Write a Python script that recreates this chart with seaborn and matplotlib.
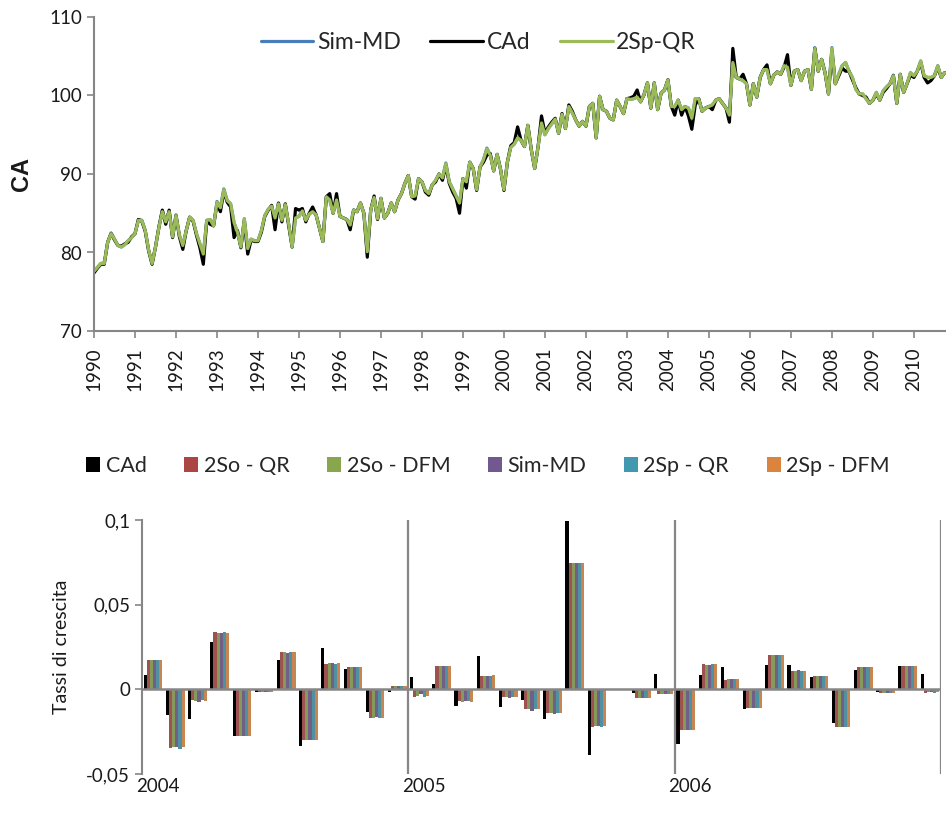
import matplotlib
matplotlib.use("Agg")
import matplotlib.pyplot as plt
from matplotlib.patches import Patch
import numpy as np
import pandas as pd
import seaborn as sns

sns.set_theme(style="white")
plt.rcParams["font.family"] = ["Lato", "DejaVu Sans"]

# ---------------- monthly index CA, Jan 1990 - Oct 2010 ----------------
YEAR_LABELS = [str(y) for y in range(1990, 2011)]

CAD = [
    77.4, 78.0, 78.5, 78.5, 81.3, 82.4, 81.6, 80.9, 80.8, 81.1, 81.3, 82.0,
    82.4, 84.2, 84.0, 82.7, 80.2, 78.5, 80.7, 83.2, 85.4, 83.6, 85.4, 81.9,
    84.7, 82.0, 80.4, 82.8, 84.5, 84.0, 82.2, 80.6, 78.5, 84.0, 83.6, 83.4,
    86.2, 85.2, 87.8, 86.4, 85.8, 81.9, 82.8, 80.6, 84.0, 79.8, 81.6, 81.4,
    81.4, 82.6, 84.6, 85.4, 86.0, 82.9, 86.3, 83.9, 86.2, 83.4, 80.7, 85.6,
    85.4, 85.6, 83.9, 85.0, 85.8, 84.8, 83.1, 81.4, 87.1, 87.5, 85.0, 87.5,
    84.6, 84.4, 84.2, 82.9, 85.4, 85.2, 86.3, 85.0, 79.4, 85.4, 87.2, 84.2,
    86.9, 84.4, 85.0, 86.3, 85.2, 86.7, 87.5, 88.8, 89.8, 87.1, 86.8, 89.4,
    89.0, 87.7, 87.3, 88.6, 89.0, 90.0, 89.2, 91.1, 88.8, 87.7, 86.9, 85.0,
    89.4, 88.2, 91.5, 90.7, 87.9, 90.9, 91.5, 92.4, 92.6, 90.4, 92.5, 90.6,
    87.9, 91.5, 93.6, 94.0, 96.0, 94.3, 93.5, 96.2, 93.1, 90.7, 93.5, 97.4,
    95.2, 96.0, 96.6, 97.1, 95.2, 97.7, 95.8, 98.8, 98.0, 96.9, 96.1, 96.7,
    96.1, 98.6, 99.0, 94.6, 99.9, 98.2, 98.0, 97.1, 96.9, 99.4, 98.6, 97.7,
    99.6, 99.7, 99.9, 100.7, 99.2, 100.1, 101.6, 98.4, 101.6, 98.2, 100.3, 100.7,
    102.0, 98.6, 97.5, 99.4, 97.5, 98.6, 97.4, 95.7, 98.8, 99.6, 98.0, 98.4,
    98.6, 98.2, 99.4, 99.6, 99.0, 98.4, 96.6, 106.0, 102.3, 102.1, 102.7, 101.5,
    98.8, 101.5, 99.8, 102.3, 103.3, 103.9, 101.5, 102.6, 103.0, 102.7, 103.6, 105.2,
    101.3, 103.1, 103.3, 101.9, 103.1, 103.3, 100.8, 106.0, 103.1, 104.6, 102.9, 100.2,
    105.6, 101.5, 102.5, 103.5, 103.1, 103.1, 102.0, 101.0, 100.2, 100.0, 99.8, 99.0,
    99.4, 100.2, 99.4, 100.4, 100.9, 101.5, 102.5, 99.0, 102.7, 100.4, 101.5, 102.6,
    102.3, 103.1, 104.2, 102.3, 101.6, 101.9, 102.5, 103.6, 102.3, 102.9,
]

SP2_QR = [
    77.6, 78.1, 78.6, 78.6, 81.3, 82.4, 81.7, 80.9, 80.7, 81.0, 81.5, 81.9,
    82.4, 84.1, 84.1, 82.8, 80.3, 78.6, 80.7, 83.2, 85.2, 83.9, 85.2, 82.0,
    84.7, 82.2, 80.9, 82.8, 84.5, 84.1, 82.4, 81.1, 79.8, 84.1, 84.2, 83.4,
    86.4, 85.7, 88.0, 86.6, 86.2, 83.8, 82.6, 80.7, 84.3, 80.5, 81.7, 81.5,
    81.5, 82.8, 84.7, 85.5, 85.9, 84.4, 86.2, 84.1, 86.1, 83.6, 80.7, 84.4,
    84.6, 85.3, 84.1, 84.9, 85.2, 84.8, 83.1, 81.4, 87.1, 86.7, 85.0, 86.7,
    84.6, 84.4, 84.2, 83.5, 85.4, 85.2, 86.3, 85.0, 80.1, 85.4, 87.0, 84.3,
    86.9, 84.4, 85.0, 86.3, 85.2, 86.7, 87.5, 88.8, 89.8, 87.1, 87.2, 89.4,
    89.0, 87.9, 87.5, 88.6, 89.2, 90.0, 89.5, 91.3, 89.0, 88.1, 87.2, 86.3,
    89.4, 89.0, 91.5, 90.7, 88.0, 90.9, 91.8, 93.2, 92.4, 90.4, 92.5, 90.6,
    88.0, 91.5, 93.4, 93.8, 94.6, 94.3, 93.5, 96.2, 93.1, 90.7, 93.5, 96.5,
    95.0, 95.8, 96.4, 97.0, 95.2, 97.6, 95.8, 98.6, 97.8, 96.9, 96.1, 96.7,
    96.1, 98.6, 99.0, 94.6, 99.9, 98.2, 98.0, 97.1, 96.9, 99.4, 98.6, 97.7,
    99.6, 99.5, 99.6, 99.8, 99.2, 100.1, 101.6, 98.4, 101.6, 98.2, 100.3, 100.7,
    102.0, 98.6, 98.6, 99.4, 98.2, 98.6, 98.4, 97.1, 99.6, 99.6, 98.0, 98.4,
    98.6, 98.8, 99.4, 99.6, 99.0, 98.4, 97.5, 104.2, 102.3, 102.1, 101.9, 101.5,
    98.8, 101.5, 99.8, 102.3, 103.3, 103.3, 101.5, 102.6, 103.0, 102.7, 103.8, 103.6,
    101.3, 103.1, 103.3, 101.9, 103.1, 103.3, 100.8, 106.0, 103.1, 104.6, 102.9, 100.2,
    106.0, 101.5, 102.7, 103.8, 104.2, 103.1, 102.3, 100.8, 100.2, 100.2, 99.6, 99.0,
    99.4, 100.4, 99.4, 100.6, 101.1, 101.5, 102.5, 99.0, 102.7, 100.4, 101.5, 102.9,
    102.5, 103.1, 104.4, 102.5, 102.3, 102.3, 102.5, 103.8, 102.3, 102.9,
]

SIM_MD = [
    77.6, 78.1, 78.6, 78.7, 81.3, 82.5, 81.7, 80.9, 80.7, 81.0, 81.5, 81.9,
    82.4, 84.2, 84.1, 82.8, 80.3, 78.6, 80.7, 83.3, 85.3, 83.9, 85.2, 82.0,
    84.8, 82.2, 80.9, 82.8, 84.5, 84.1, 82.4, 81.1, 79.8, 84.1, 84.2, 83.4,
    86.5, 85.7, 88.1, 86.6, 86.2, 83.8, 82.6, 80.7, 84.3, 80.5, 81.7, 81.5,
    81.5, 82.8, 84.7, 85.5, 85.9, 84.4, 86.2, 84.1, 86.1, 83.6, 80.7, 84.4,
    84.6, 85.4, 84.1, 84.9, 85.2, 84.8, 83.1, 81.4, 87.1, 86.7, 85.0, 86.7,
    84.6, 84.4, 84.2, 83.5, 85.4, 85.2, 86.3, 85.0, 80.1, 85.4, 87.0, 84.3,
    86.9, 84.4, 85.0, 86.3, 85.2, 86.7, 87.5, 88.8, 89.8, 87.1, 87.2, 89.4,
    89.0, 87.9, 87.5, 88.6, 89.2, 90.0, 89.5, 91.4, 89.0, 88.1, 87.2, 86.3,
    89.4, 89.0, 91.5, 90.7, 88.0, 90.9, 91.8, 93.3, 92.4, 90.4, 92.5, 90.6,
    88.0, 91.5, 93.4, 93.8, 94.6, 94.3, 93.5, 96.2, 93.1, 90.7, 93.5, 96.5,
    95.0, 95.8, 96.4, 97.0, 95.2, 97.6, 95.8, 98.6, 97.8, 96.9, 96.1, 96.7,
    96.1, 98.6, 99.0, 94.6, 99.9, 98.2, 98.0, 97.1, 96.9, 99.4, 98.6, 97.7,
    99.6, 99.5, 99.6, 99.8, 99.2, 100.1, 101.6, 98.4, 101.6, 98.2, 100.3, 100.7,
    102.0, 98.6, 98.6, 99.4, 98.2, 98.6, 98.4, 97.1, 99.6, 99.6, 98.0, 98.4,
    98.6, 98.8, 99.4, 99.6, 99.0, 98.4, 97.5, 104.3, 102.3, 102.1, 101.9, 101.5,
    98.8, 101.5, 99.8, 102.3, 103.3, 103.3, 101.5, 102.6, 103.0, 102.7, 103.8, 103.6,
    101.3, 103.1, 103.3, 101.9, 103.1, 103.3, 100.8, 106.1, 103.1, 104.6, 102.9, 100.2,
    106.1, 101.5, 102.7, 103.8, 104.2, 103.1, 102.3, 100.8, 100.2, 100.2, 99.6, 99.0,
    99.4, 100.4, 99.4, 100.6, 101.1, 101.5, 102.6, 99.0, 102.7, 100.4, 101.5, 102.9,
    102.5, 103.1, 104.4, 102.5, 102.3, 102.3, 102.5, 103.8, 102.3, 102.9,
]

# ---------------- monthly growth rates 2004 - 2006 ----------------
GROWTH_YEARS = ["2004", "2005", "2006"]
MONTHS = ["gen", "feb", "mar", "apr", "mag", "giu",
          "lug", "ago", "set", "ott", "nov", "dic"]

G_CAD = [0.0084, -0.0153, -0.0176, 0.0280, -0.0275, -0.0014, 0.0176, -0.0337, 0.0243, 0.0118, -0.0133, -0.0014,
         0.0075, 0.0033, -0.0098, 0.0198, -0.0106, -0.0065, -0.0178, 0.0996, -0.0390, 0.0003, -0.0024, 0.0092,
         -0.0325, 0.0085, 0.0134, -0.0114, 0.0142, 0.0142, 0.0071, -0.0199, 0.0112, -0.0014, 0.0140, 0.0091]
G_2SO_QR = [0.0176, -0.0347, -0.0063, 0.0341, -0.0275, -0.0014, 0.0218, -0.0298, 0.0149, 0.0129, -0.0169, 0.0018,
            -0.0045, 0.0137, -0.0069, 0.0076, -0.0045, -0.0116, -0.0139, 0.0747, -0.0222, 0.0002, -0.0051, -0.0027,
            -0.0240, 0.0148, 0.0053, -0.0110, 0.0201, 0.0107, 0.0077, -0.0223, 0.0130, -0.0022, 0.0136, -0.0022]
G_2SO_DFM = [0.0176, -0.0341, -0.0069, 0.0333, -0.0275, -0.0014, 0.0218, -0.0298, 0.0153, 0.0129, -0.0169, 0.0018,
             -0.0039, 0.0137, -0.0075, 0.0076, -0.0045, -0.0116, -0.0139, 0.0747, -0.0216, 0.0002, -0.0051, -0.0027,
             -0.0240, 0.0146, 0.0059, -0.0110, 0.0201, 0.0107, 0.0077, -0.0223, 0.0130, -0.0022, 0.0136, -0.0014]
G_SIM_MD = [0.0176, -0.0343, -0.0075, 0.0333, -0.0275, -0.0014, 0.0212, -0.0298, 0.0153, 0.0129, -0.0163, 0.0018,
            -0.0029, 0.0137, -0.0069, 0.0076, -0.0053, -0.0127, -0.0145, 0.0747, -0.0216, 0.0002, -0.0051, -0.0027,
            -0.0240, 0.0142, 0.0059, -0.0110, 0.0201, 0.0112, 0.0077, -0.0223, 0.0130, -0.0022, 0.0136, -0.0014]
G_2SP_QR = [0.0176, -0.0353, -0.0065, 0.0341, -0.0275, -0.0014, 0.0218, -0.0298, 0.0147, 0.0129, -0.0169, 0.0018,
            -0.0045, 0.0137, -0.0069, 0.0076, -0.0045, -0.0116, -0.0139, 0.0747, -0.0222, 0.0002, -0.0051, -0.0027,
            -0.0240, 0.0148, 0.0059, -0.0110, 0.0201, 0.0107, 0.0077, -0.0223, 0.0130, -0.0022, 0.0136, -0.0022]
G_2SP_DFM = [0.0176, -0.0341, -0.0069, 0.0335, -0.0275, -0.0014, 0.0218, -0.0298, 0.0153, 0.0129, -0.0169, 0.0018,
             -0.0039, 0.0137, -0.0075, 0.0084, -0.0045, -0.0116, -0.0139, 0.0747, -0.0216, 0.0002, -0.0051, -0.0027,
             -0.0240, 0.0148, 0.0059, -0.0110, 0.0201, 0.0107, 0.0077, -0.0223, 0.0130, -0.0022, 0.0136, -0.0014]

BAR_SERIES = ["CAd", "2So - QR", "2So - DFM", "Sim-MD", "2Sp - QR", "2Sp - DFM"]
BAR_COLORS = ["#000000", "#AA4643", "#89A54E", "#71588F", "#4198AF", "#DB843D"]

AXIS_GREY = "#868686"
TEXT_COL = "#1a1a1a"

fig = plt.figure(figsize=(9.46, 8.25), dpi=100)
W, H = 946, 825

# ---------------- top panel: index levels ----------------
ax1 = fig.add_axes([94 / W, 1 - 331 / H, 852 / W, 314 / H])
month_idx = np.arange(len(CAD))
top = pd.DataFrame({"m": month_idx, "Sim-MD": SIM_MD, "CAd": CAD, "2Sp-QR": SP2_QR})
for name, col in [("Sim-MD", "#4A7EBB"), ("CAd", "#000000"), ("2Sp-QR", "#9BBB59")]:
    sns.lineplot(data=top, x="m", y=name, color=col, lw=2.3, label=name, ax=ax1)

ax1.set_xlim(0, 249.4)
ax1.set_ylim(70, 110)
ax1.set_yticks([70, 80, 90, 100, 110])
ax1.set_xticks(np.arange(0, len(YEAR_LABELS) * 12, 12))
ax1.set_xticklabels(YEAR_LABELS, rotation=90)
ax1.set_xlabel("")
ax1.set_ylabel("CA", fontsize=17, fontweight="bold", color=TEXT_COL, labelpad=12,
               family=["Liberation Sans", "DejaVu Sans"])
for s in ("top", "right"):
    ax1.spines[s].set_visible(False)
for s in ("left", "bottom"):
    ax1.spines[s].set_color(AXIS_GREY)
    ax1.spines[s].set_linewidth(1.5)
ax1.tick_params(axis="both", direction="out", length=5, width=1.2, color=AXIS_GREY,
                labelsize=13.5, labelcolor=TEXT_COL, left=True, bottom=True)
ax1.tick_params(axis="x", pad=7)
ax1.legend(loc="center", bbox_to_anchor=(0.451, 0.92), ncol=3, frameon=False,
           fontsize=16.5, handlelength=2.3, handletextpad=0.15, columnspacing=1.3)

# ---------------- bottom panel: growth rates ----------------
ax2 = fig.add_axes([142 / W, 1 - 774 / H, 799 / W, 254 / H])
periods = [f"{y}-{m}" for y in GROWTH_YEARS for m in MONTHS]
rows = []
for name, vals in zip(BAR_SERIES, [G_CAD, G_2SO_QR, G_2SO_DFM, G_SIM_MD, G_2SP_QR, G_2SP_DFM]):
    for p, v in zip(periods, vals):
        rows.append({"period": p, "serie": name, "value": v})
bars = pd.DataFrame(rows)
sns.barplot(data=bars, x="period", y="value", hue="serie", order=periods,
            hue_order=BAR_SERIES, palette=dict(zip(BAR_SERIES, BAR_COLORS)),
            width=0.84, linewidth=0, legend=False, ax=ax2, errorbar=None)

ax2.set_xlim(-0.5, len(periods) - 0.5)
ax2.set_ylim(-0.05, 0.1)
ax2.set_yticks([-0.05, 0, 0.05, 0.1])
ax2.set_yticklabels(["-0,05", "0", "0,05", "0,1"])
ax2.set_xticks([0.2, 12.2, 24.2])
ax2.set_xticklabels(GROWTH_YEARS)
ax2.set_xlabel("")
ax2.set_ylabel("Tassi di crescita", fontsize=14, color=TEXT_COL, labelpad=12)
for s in ("top", "right", "bottom"):
    ax2.spines[s].set_visible(False)
ax2.spines["left"].set_color(AXIS_GREY)
ax2.spines["left"].set_linewidth(1.5)
ax2.tick_params(axis="y", direction="out", length=5, width=1.2, color=AXIS_GREY,
                labelsize=13.5, labelcolor=TEXT_COL, left=True)
ax2.tick_params(axis="x", length=0, pad=3, labelsize=13.5, labelcolor=TEXT_COL)
ax2.axhline(0, color=AXIS_GREY, lw=1.8, zorder=5)
for xs in (11.5, 23.5, 35.5):
    ax2.axvline(xs, color=AXIS_GREY, lw=1.6, zorder=5)

handles = [Patch(facecolor=c, edgecolor="none") for c in BAR_COLORS]
fig.legend(handles, BAR_SERIES, loc="center", bbox_to_anchor=(488 / W, 1 - 466 / H),
           ncol=6, frameon=False, fontsize=15.5, handlelength=0.65, handleheight=0.65,
           handletextpad=0.25, columnspacing=1.75)

fig.savefig("out.png", dpi=100)
